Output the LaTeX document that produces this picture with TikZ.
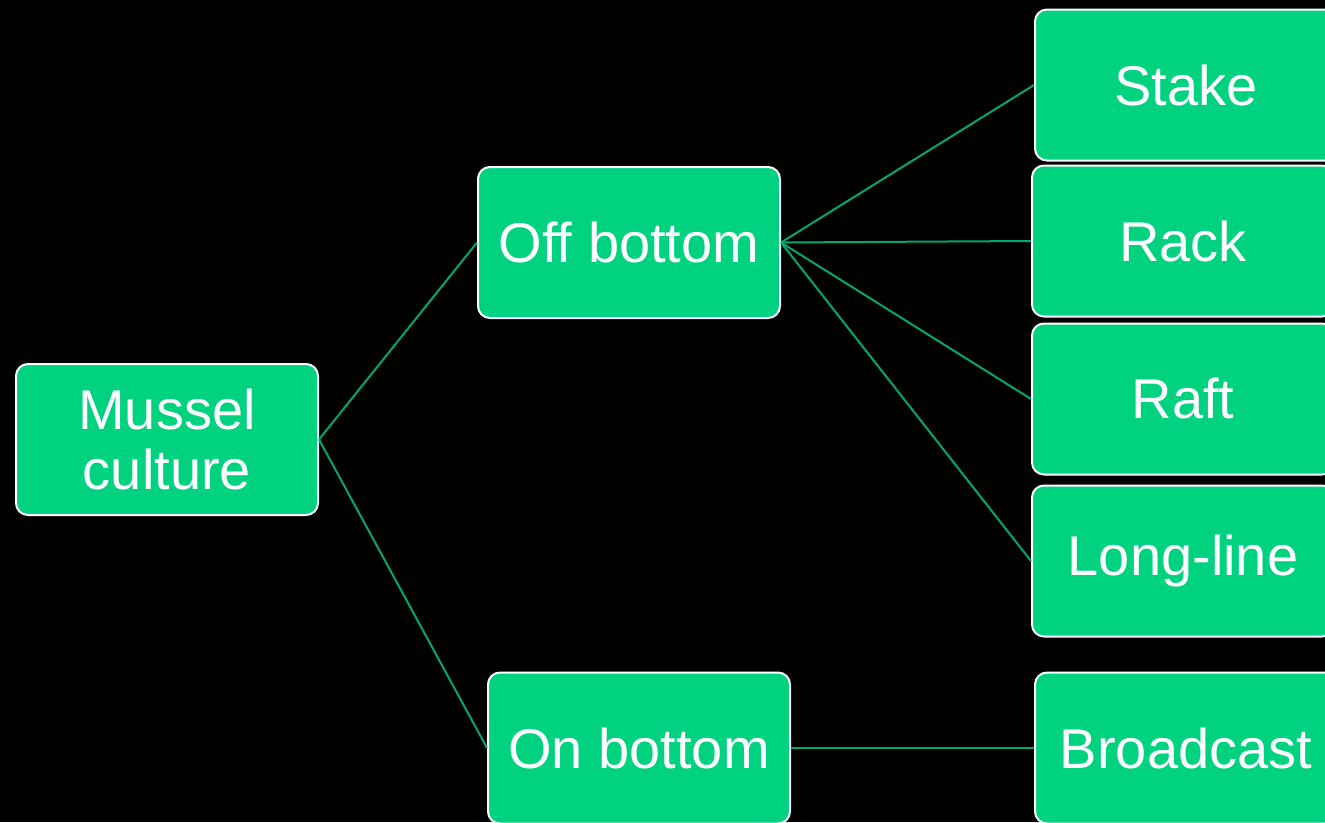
\documentclass[tikz,border=0pt]{standalone}
\usepackage{fontspec}
\setmainfont{Liberation Sans}
\definecolor{boxfill}{HTML}{00D27F}
\definecolor{linkcol}{HTML}{00A86A}
\begin{document}
\begin{tikzpicture}[x=1pt,y=-1pt,
  box/.style={draw=white, line width=2pt, fill=boxfill, rounded corners=12pt,
    minimum width=302pt, minimum height=151pt, inner sep=0pt, text=white,
    align=center, font=\fontsize{56}{60}\selectfont},
  link/.style={draw=linkcol, line width=2pt}]
\useasboundingbox (0,0) rectangle (1325,822);
\fill[black] (0,0) rectangle (1325,822);
\clip (0,0) rectangle (1325,822);
\node[box] (mussel) at (167,439.5) {Mussel\\culture};
\node[box] (off) at (629,242.5) {Off bottom};
\node[box] (on) at (639,748) {On bottom};
\node[box] (stake) at (1186,85) {Stake};
\node[box] (rack) at (1183,241) {Rack};
\node[box] (raft) at (1183,399) {Raft};
\node[box] (long) at (1183,561) {Long-line};
\node[box] (broad) at (1186,748) {Broadcast};
\draw[link] (mussel.east) -- (off.west);
\draw[link] (mussel.east) -- (on.west);
\draw[link] (off.east) -- (stake.west);
\draw[link] (off.east) -- (rack.west);
\draw[link] (off.east) -- (raft.west);
\draw[link] (off.east) -- (long.west);
\draw[link] (on.east) -- (broad.west);
\end{tikzpicture}
\end{document}
